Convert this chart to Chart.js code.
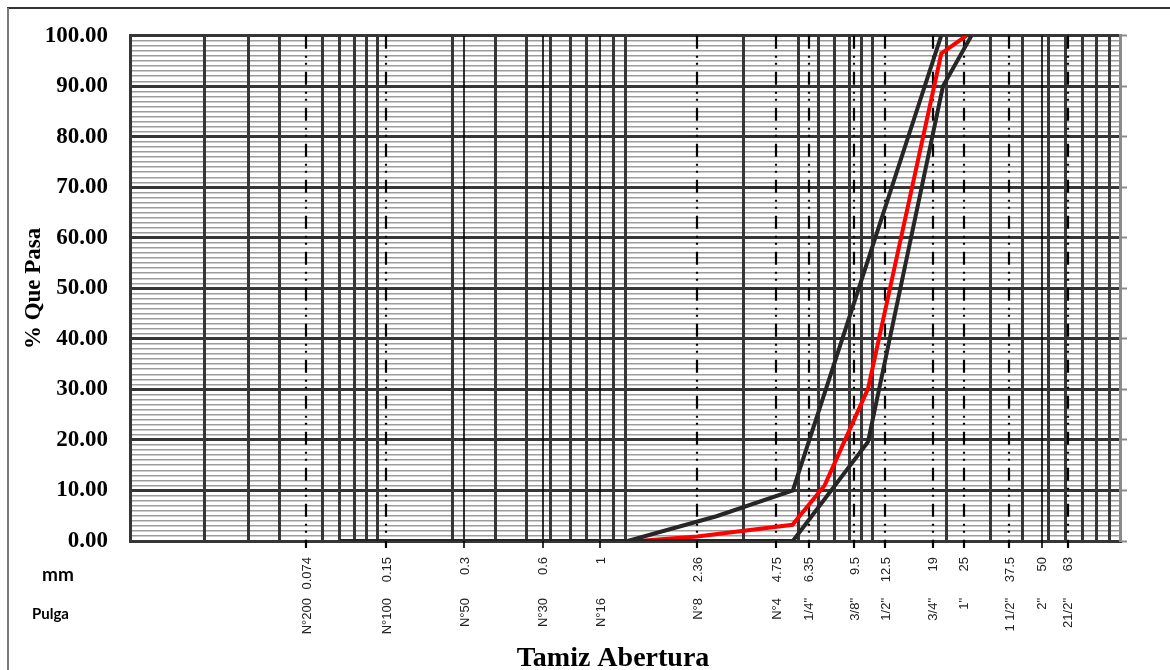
<!DOCTYPE html>
<html><head><meta charset="utf-8">
<script src="https://cdn.jsdelivr.net/npm/chart.js@4/dist/chart.umd.min.js"></script>
<style>html,body{margin:0;padding:0;background:#fff;}#wrap{width:1170px;height:670px;position:relative;}</style>
</head><body><div id="wrap"><canvas id="c" width="1170" height="670"></canvas></div>
<script>
// Sieve openings (mm) and names
const SIEVE_MM = [0.074, 0.15, 0.3, 0.6, 1, 2.36, 4.75, 6.35, 9.5, 12.5, 19, 25, 37.5, 50, 63];
const SIEVE_MM_LABELS = ['0.074', '0.15', '0.3', '0.6', '1', '2.36', '4.75', '6.35', '9.5', '12.5', '19', '25', '37.5', '50', '63'];
const SIEVE_NAMES = ['N°200', 'N°100', 'N°50', 'N°30', 'N°16', 'N°8', 'N°4', '1/4"', '3/8"', '1/2"', '3/4"', '1"', '1 1/2"', '2"', '21/2"'];
const SIEVE_SOLID = [0.3, 0.6, 1, 50];
// Vertical grid lines of the log paper (mm)
const GRID_X = [0.0301, 0.0442, 0.0582, 0.0854, 0.099, 0.1138, 0.1262, 0.1391, 0.2695, 0.396, 0.521, 0.644, 0.769, 0.887,
  1.129, 1.252, 3.55, 5.78, 6.90, 8.00, 9.14, 10.14, 11.18, 21.5, 31.8, 42.2, 53.0, 61.8, 71.9, 81.4, 91.5];
// Band limits and sample curve (% passing)
const UPPER_X = [0.1, 1.275, 2.8, 5.51, 20.5];
const UPPER_Y = [0, 0, 4.9, 10, 100];
const LOWER_X = [0.1, 5.51, 10.72, 20.83, 26.8];
const LOWER_Y = [0, 0, 19.6, 90, 100];
const SAMPLE_X = [0.1, 1.4, 2.36, 5.49, 7.3, 10.72, 20.53, 25.6];
const SAMPLE_Y = [0, 0, 0.9, 3.2, 11.0, 30.1, 96.5, 100];

const pts = (xs, ys) => xs.map((x, i) => ({x: x, y: ys[i]}));
const SERIF = '"Liberation Serif","Times New Roman",serif';

const framePlugin = {
  id: 'frame',
  beforeDraw(chart) {
    const ctx = chart.ctx;
    ctx.save();
    ctx.fillStyle = '#fff';
    ctx.fillRect(0, 0, chart.width, chart.height);
    ctx.strokeStyle = '#333'; ctx.lineWidth = 2;
    ctx.beginPath(); ctx.moveTo(7, 8); ctx.lineTo(chart.width, 8); ctx.stroke();
    ctx.strokeStyle = '#7a7a7a';
    ctx.beginPath(); ctx.moveTo(8, 8); ctx.lineTo(8, chart.height); ctx.stroke();
    ctx.restore();
  }
};

const sievePlugin = {
  id: 'sieves',
  beforeDatasetsDraw(chart) {
    const {ctx, chartArea, scales} = chart;
    const x = scales.x;
    ctx.save();
    SIEVE_MM.forEach(v => {
      const px = Math.round(x.getPixelForValue(v));
      const solid = SIEVE_SOLID.includes(v);
      ctx.beginPath();
      ctx.strokeStyle = '#000';
      ctx.lineWidth = solid ? 1.6 : 2.2;
      ctx.setLineDash(solid ? [] : [13, 7, 2, 5, 2, 7]);
      ctx.moveTo(px, chartArea.top);
      ctx.lineTo(px, chartArea.bottom + 7);
      ctx.stroke();
    });
    ctx.restore();
  },
  afterDraw(chart) {
    const {ctx, chartArea, scales} = chart;
    const x = scales.x;
    ctx.save();
    ctx.fillStyle = '#222';
    ctx.font = '13px "Liberation Sans", Arial, sans-serif';
    ctx.textAlign = 'right';
    ctx.textBaseline = 'middle';
    const rot = (t, px, py) => {
      ctx.save(); ctx.translate(px, py); ctx.rotate(-Math.PI / 2); ctx.fillText(t, 0, 0); ctx.restore();
    };
    SIEVE_MM.forEach((v, i) => {
      const px = x.getPixelForValue(v) + 1;
      rot(SIEVE_MM_LABELS[i], px, chartArea.bottom + 16);
      rot(SIEVE_NAMES[i], px, chartArea.bottom + 57);
    });
    ctx.fillStyle = '#000';
    ctx.textAlign = 'left';
    ctx.textBaseline = 'alphabetic';
    ctx.font = 'bold 19px Lato, "Open Sans", sans-serif';
    ctx.fillText('mm', 42, 581);
    ctx.font = 'bold 15px Lato, "Open Sans", sans-serif';
    ctx.fillText('Pulga', 32, 619);
    ctx.font = 'bold 28px ' + SERIF;
    ctx.textAlign = 'center';
    ctx.fillText('Tamiz Abertura', 613, 666);
    ctx.restore();
  }
};

new Chart(document.getElementById('c'), {
  type: 'line',
  data: {
    datasets: [
      {label: 'Límite superior', data: pts(UPPER_X, UPPER_Y), borderColor: '#262626', borderWidth: 4, pointRadius: 0, tension: 0, order: 1},
      {label: 'Límite inferior', data: pts(LOWER_X, LOWER_Y), borderColor: '#262626', borderWidth: 4, pointRadius: 0, tension: 0, order: 1},
      {label: 'Muestra', data: pts(SAMPLE_X, SAMPLE_Y), borderColor: '#ff0000', borderWidth: 4, pointRadius: 0, tension: 0, order: 2}
    ]
  },
  options: {
    responsive: false,
    animation: false,
    devicePixelRatio: 1,
    layout: {padding: {left: 0, right: 0, top: 34, bottom: 129}},
    plugins: {legend: {display: false}, tooltip: {enabled: false}},
    scales: {
      x: {
        type: 'logarithmic', min: 0.0155, max: 100,
        afterBuildTicks: a => { a.ticks = GRID_X.map(v => ({value: v})); },
        ticks: {display: false, autoSkip: false},
        grid: {color: '#363636', lineWidth: 3, drawTicks: false, z: -1},
        border: {display: true, color: '#363636', width: 3}
      },
      y: {
        type: 'linear', min: 0, max: 100, position: 'left',
        afterFit: s => { s.width = 130; },
        ticks: {
          stepSize: 1, autoSkip: false, maxTicksLimit: 1000, padding: 22, color: '#000',
          font: {family: SERIF, size: 23, weight: 'bold'},
          callback: v => (Math.round(v) % 10 === 0 ? Number(v).toFixed(2) : '')
        },
        grid: {
          drawTicks: false, z: -3,
          color: c => (Math.round(c.tick.value) % 10 === 0 ? '#363636' : '#9c9c9c'),
          lineWidth: c => (Math.round(c.tick.value) % 10 === 0 ? 3 : 1.5)
        },
        border: {color: '#363636', width: 3},
        title: {display: true, text: '% Que Pasa', color: '#000', font: {family: SERIF, size: 23, weight: 'bold'}, padding: {top: 20, bottom: 0}}
      },
      y2: {
        type: 'linear', min: 0, max: 100, position: 'right',
        afterFit: s => { s.width = 50; },
        ticks: {display: false, stepSize: 10},
        grid: {drawOnChartArea: false, drawTicks: true, tickLength: 7, tickColor: '#8a8a8a', tickWidth: 2, z: -2},
        border: {color: '#8a8a8a', width: 3}
      }
    }
  },
  plugins: [framePlugin, sievePlugin]
});
</script>
</body></html>
